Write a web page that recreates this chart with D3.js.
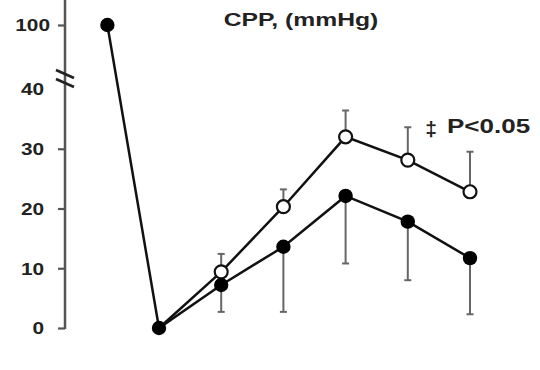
<!DOCTYPE html>
<html><head><meta charset="utf-8">
<script src="https://cdn.jsdelivr.net/npm/d3@7"></script>
<style>
html,body{margin:0;padding:0;background:#fff;}
text{font-family:"Liberation Sans",Arial,sans-serif;font-weight:bold;fill:#222;}
</style></head>
<body><svg id="c" width="540" height="370"></svg>
<script>
// ---- data ----
const timePoints = [-0.83, 0, 1, 2, 3, 4, 5];
const filledValues = [100, 0, 7.2, 13.6, 22.1, 17.8, 11.7];
const filledErrDown = [null, null, 4.5, 10.9, 11.3, 9.8, 9.4];
const openValues = [null, 0, 9.4, 20.3, 32.0, 28.1, 22.8];
const openErrUp = [null, null, 3.0, 2.9, 4.4, 5.5, 6.7];
const yTickValues = [0, 10, 20, 30, 40, 100];
const titleText = "CPP, (mmHg)";
const sigText = "P<0.05";
const sigSymbol = "\u2021";

const svg = d3.select("#c");
const x = d3.scaleLinear().domain([0, 5]).range([159, 470]);
// broken axis: piecewise linear scale
const y = d3.scaleLinear().domain([0, 40, 100]).range([328, 89, 25]);
const axisX = 65;
const stretch = 1.3;

function stretchText(sel){
  sel.each(function(){
    const w = this.getComputedTextLength();
    d3.select(this).attr("textLength", w*stretch).attr("lengthAdjust","spacingAndGlyphs");
  });
}

// axis
const ax = svg.append("g").attr("transform", `translate(${axisX},0)`)
  .call(d3.axisLeft(y).tickValues(yTickValues).tickSize(7).tickSizeOuter(0).tickPadding(14).tickFormat(d3.format("d")));
ax.select(".domain").remove();
ax.selectAll(".tick line").attr("stroke", "#555").attr("stroke-width", 2.2)
  .filter(d => d === 40).remove();
ax.selectAll(".tick text").attr("font-size", 16).style("font-family", "Liberation Sans, Arial, sans-serif")
  .style("font-weight","bold").attr("fill", "#222").attr("dy","0.36em")
  .attr("x", d => d === 100 ? -15 : -21).call(stretchText);
ax.append("line").attr("x1", 0).attr("x2", 0).attr("y1", y(0)+1).attr("y2", 0)
  .attr("stroke", "#555").attr("stroke-width", 2.5);
// break marks
[0, 9].forEach(off => {
  ax.append("line").attr("x1", -9).attr("y1", 70 + off).attr("x2", 9).attr("y2", 78 + off)
    .attr("stroke", "#222").attr("stroke-width", 2.8);
});

// lines
const line = d3.line().defined(d => d[1] != null).x(d => x(d[0])).y(d => y(d[1]));
svg.append("path").datum(timePoints.map((t,i)=>[t, filledValues[i]]))
  .attr("d", line).attr("fill","none").attr("stroke","#111").attr("stroke-width",2.5);
svg.append("path").datum(timePoints.map((t,i)=>[t, openValues[i]]))
  .attr("d", line).attr("fill","none").attr("stroke","#111").attr("stroke-width",2.5);

// error bars
const eg = svg.append("g").attr("stroke","#666").attr("stroke-width",2);
timePoints.forEach((t,i) => {
  if (filledErrDown[i] != null) {
    const y0 = y(filledValues[i]), y1 = y(filledValues[i] - filledErrDown[i]);
    eg.append("line").attr("x1",x(t)).attr("x2",x(t)).attr("y1",y0).attr("y2",y1);
    eg.append("line").attr("x1",x(t)-3.5).attr("x2",x(t)+3.5).attr("y1",y1).attr("y2",y1);
  }
  if (openErrUp[i] != null) {
    const y0 = y(openValues[i]), y1 = y(openValues[i] + openErrUp[i]);
    eg.append("line").attr("x1",x(t)).attr("x2",x(t)).attr("y1",y0).attr("y2",y1);
    eg.append("line").attr("x1",x(t)-3.5).attr("x2",x(t)+3.5).attr("y1",y1).attr("y2",y1);
  }
});

// markers
svg.append("g").selectAll("circle").data(timePoints.map((t,i)=>[t, openValues[i]]).filter(d=>d[1]!=null && d[1]>0))
  .join("circle").attr("cx", d=>x(d[0])).attr("cy", d=>y(d[1])).attr("r", 6.5)
  .attr("fill","#fff").attr("stroke","#111").attr("stroke-width",2.2);
svg.append("g").selectAll("circle").data(timePoints.map((t,i)=>[t, filledValues[i]]))
  .join("circle").attr("cx", d=>x(d[0])).attr("cy", d=>y(d[1])).attr("r", 7.2).attr("fill","#000");

// title and annotation
svg.append("text").attr("x", 301).attr("y", 26).attr("text-anchor","middle").attr("font-size", 19)
  .text(titleText).call(stretchText);
svg.append("text").attr("x", 431).attr("y", 136).attr("text-anchor","middle").attr("font-size", 21)
  .attr("fill","#555").text(sigSymbol);
svg.append("text").attr("x", 447).attr("y", 133).attr("font-size", 20)
  .text(sigText).call(stretchText);
</script></body></html>
